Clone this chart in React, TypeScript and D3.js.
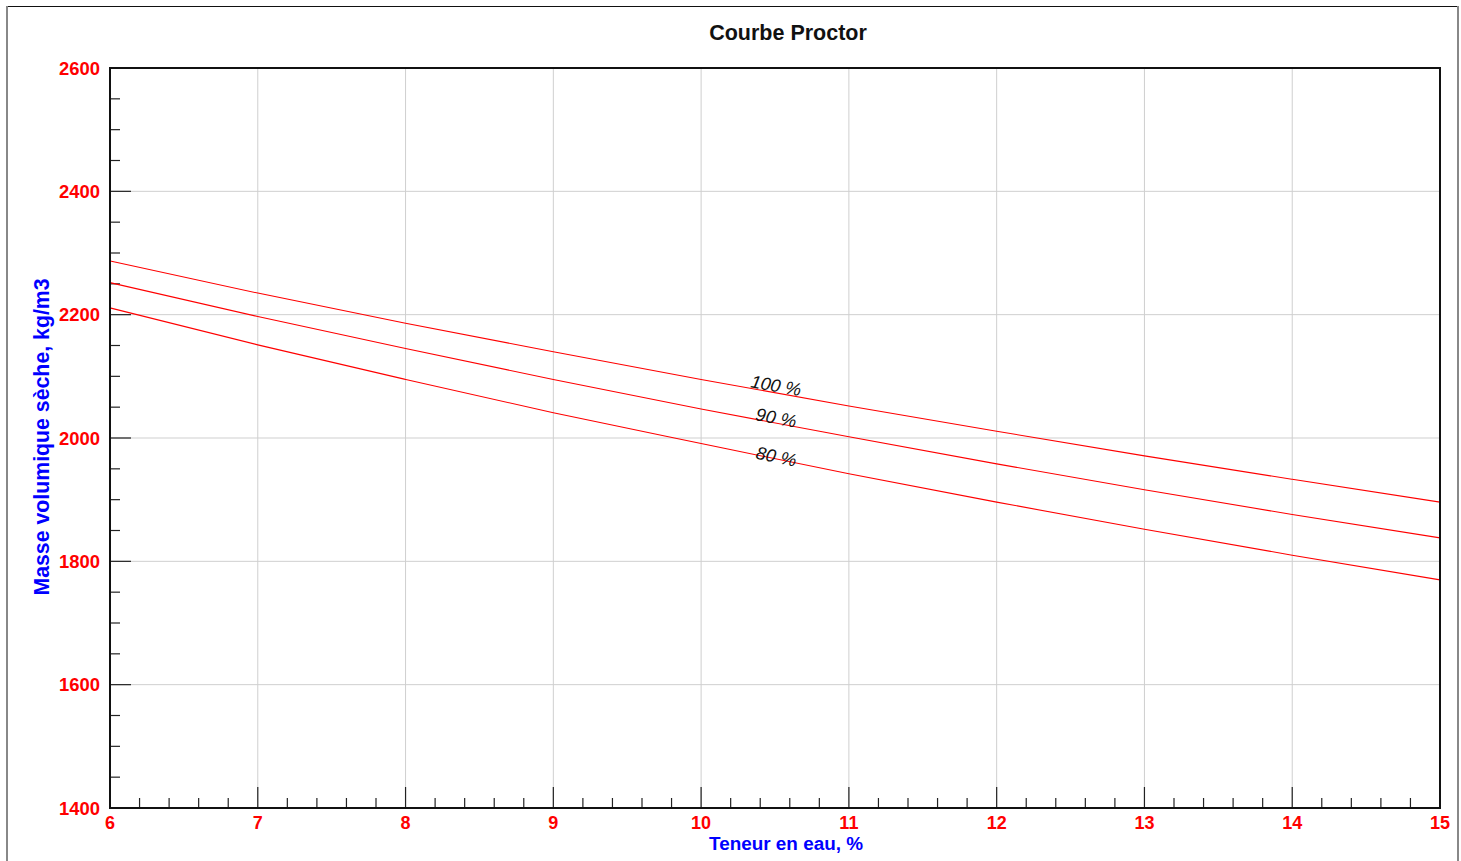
import * as d3 from "d3";
import React, { useEffect, useRef } from "react";

// teneur en eau (%)
const waterContent = [6, 7, 8, 9, 10, 11, 12, 13, 14, 15];
// masse volumique sèche, kg/m3
const sat100 = [2287, 2235, 2186, 2140, 2095, 2052, 2011, 1971, 1933, 1896];
const sat90 = [2252, 2197, 2145, 2095, 2047, 2002, 1958, 1916, 1876, 1838];
const sat80 = [2211, 2151, 2095, 2041, 1991, 1942, 1896, 1852, 1810, 1770];
const seriesLabels = ["100 %", "90 %", "80 %"];
const xTicks = [6, 7, 8, 9, 10, 11, 12, 13, 14, 15];
const yTicks = [1400, 1600, 1800, 2000, 2200, 2400, 2600];

export default function App() {
  const ref = useRef<SVGSVGElement>(null);

  useEffect(() => {
    const svg = d3.select(ref.current);
    svg.selectAll("*").remove();
    const W = 1461;
    const H = 861;
    const margin = { top: 68, right: 21, bottom: 53, left: 110 };
    const width = W - margin.left - margin.right;
    const height = H - margin.top - margin.bottom;
    const font = "Liberation Sans, Arial, sans-serif";

    // cadre extérieur
    svg
      .append("line")
      .attr("x1", 7).attr("x2", 1458).attr("y1", 6.5).attr("y2", 6.5)
      .attr("stroke", "#111").attr("stroke-width", 1.2);
    svg
      .append("line")
      .attr("x1", 7).attr("x2", 7).attr("y1", 6).attr("y2", H)
      .attr("stroke", "#888").attr("stroke-width", 2);
    svg
      .append("line")
      .attr("x1", 1458).attr("x2", 1458).attr("y1", 6).attr("y2", H)
      .attr("stroke", "#888").attr("stroke-width", 2);

    const xScale = d3.scaleLinear().domain([6, 15]).range([0, width]);
    const yScale = d3.scaleLinear().domain([1400, 2600]).range([height, 0]);

    const main = svg
      .append("g")
      .attr("transform", `translate(${margin.left},${margin.top})`);

    // grille
    main
      .append("g")
      .selectAll("line.gx")
      .data(xTicks.slice(1, -1))
      .enter()
      .append("line")
      .attr("x1", (d) => xScale(d)).attr("x2", (d) => xScale(d))
      .attr("y1", 0).attr("y2", height)
      .attr("stroke", "#cfcfcf").attr("stroke-width", 1);
    main
      .append("g")
      .selectAll("line.gy")
      .data(yTicks.slice(1, -1))
      .enter()
      .append("line")
      .attr("x1", 0).attr("x2", width)
      .attr("y1", (d) => yScale(d)).attr("y2", (d) => yScale(d))
      .attr("stroke", "#cfcfcf").attr("stroke-width", 1);

    // graduations mineures / majeures
    const xMinor = d3.range(6, 15.001, 0.2);
    main
      .append("g")
      .selectAll("line")
      .data(xMinor)
      .enter()
      .append("line")
      .attr("x1", (d) => xScale(d)).attr("x2", (d) => xScale(d))
      .attr("y1", height)
      .attr("y2", (d) => height - (Math.abs(d - Math.round(d)) < 1e-6 ? 21 : 10))
      .attr("stroke", "#222").attr("stroke-width", 1.2);
    const yMinor = d3.range(1400, 2600.001, 50);
    main
      .append("g")
      .selectAll("line")
      .data(yMinor)
      .enter()
      .append("line")
      .attr("x1", 0)
      .attr("x2", (d) => (d % 200 === 0 ? 21 : 10))
      .attr("y1", (d) => yScale(d)).attr("y2", (d) => yScale(d))
      .attr("stroke", "#222").attr("stroke-width", 1.2);

    // courbes de saturation
    const line = d3
      .line<number>()
      .curve(d3.curveMonotoneX)
      .x((d, i) => xScale(waterContent[i]))
      .y((d) => yScale(d));
    const series = [sat100, sat90, sat80];
    main
      .append("g")
      .selectAll("path")
      .data(series)
      .enter()
      .append("path")
      .attr("d", (d) => line(d))
      .attr("fill", "none")
      .attr("stroke", "#ff0000")
      .attr("stroke-width", 1.1);

    // étiquettes des courbes
    const labelDy = [-1, 1, 4];
    series.forEach((s, i) => {
      const xv = 10.5;
      const yv = (s[4] + s[5]) / 2;
      const angle =
        (Math.atan2(yScale(s[5]) - yScale(s[4]), xScale(11) - xScale(10)) * 180) /
        Math.PI;
      main
        .append("text")
        .attr(
          "transform",
          `translate(${xScale(xv)},${yScale(yv) + labelDy[i]}) rotate(${angle})`
        )
        .attr("text-anchor", "middle")
        .attr("font-family", font)
        .attr("font-style", "italic")
        .attr("font-size", 18)
        .attr("fill", "#111")
        .text(seriesLabels[i]);
    });

    // cadre du graphique
    main
      .append("rect")
      .attr("x", 0).attr("y", 0)
      .attr("width", width).attr("height", height)
      .attr("fill", "none")
      .attr("stroke", "#111").attr("stroke-width", 2);

    // étiquettes des axes
    main
      .append("g")
      .selectAll("text")
      .data(xTicks)
      .enter()
      .append("text")
      .attr("x", (d) => xScale(d))
      .attr("y", height + 21)
      .attr("text-anchor", "middle")
      .attr("font-family", font)
      .attr("font-weight", "bold")
      .attr("font-size", 18)
      .attr("fill", "#ff0000")
      .text((d) => d);
    main
      .append("g")
      .selectAll("text")
      .data(yTicks)
      .enter()
      .append("text")
      .attr("x", -10)
      .attr("y", (d) => yScale(d))
      .attr("dy", "0.36em")
      .attr("text-anchor", "end")
      .attr("font-family", font)
      .attr("font-weight", "bold")
      .attr("font-size", 18.4)
      .attr("fill", "#ff0000")
      .text((d) => d);

    svg
      .append("text")
      .attr("x", 788).attr("y", 40)
      .attr("text-anchor", "middle")
      .attr("font-family", font)
      .attr("font-weight", "bold")
      .attr("font-size", 21.5)
      .attr("fill", "#111")
      .text("Courbe Proctor");
    svg
      .append("text")
      .attr("x", 786).attr("y", 850)
      .attr("text-anchor", "middle")
      .attr("font-family", font)
      .attr("font-weight", "bold")
      .attr("font-size", 18.9)
      .attr("fill", "#0000ff")
      .text("Teneur en eau, %");
    svg
      .append("text")
      .attr("transform", `translate(49,437) rotate(-90)`)
      .attr("text-anchor", "middle")
      .attr("font-family", font)
      .attr("font-weight", "bold")
      .attr("font-size", 21.3)
      .attr("fill", "#0000ff")
      .text("Masse volumique sèche, kg/m3");
  }, []);

  return (
    <svg
      ref={ref}
      width={1461}
      height={861}
      style={{ position: "absolute", left: 0, top: 0, background: "#fff" }}
    />
  );
}
